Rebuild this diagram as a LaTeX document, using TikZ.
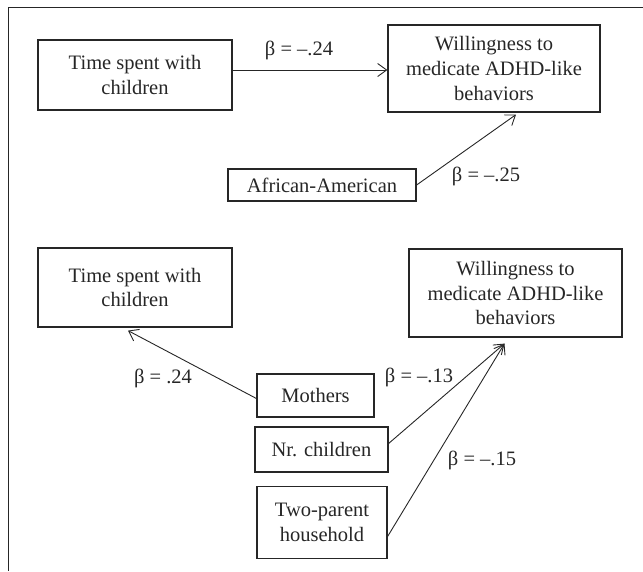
\documentclass[tikz,border=0pt]{standalone}
\usepackage{fontspec}
\setmainfont{Liberation Serif}
\usetikzlibrary{arrows.meta}
\definecolor{ink}{gray}{0.15}
\begin{document}
\begin{tikzpicture}[x=1pt,y=-1pt,
  box/.style={draw=ink, line width=1.2pt, rectangle, align=center, inner sep=0pt,
    font=\fontsize{20.5}{24.7}\selectfont, text=ink},
  lbl/.style={font=\fontsize{20.5}{24.7}\selectfont, text=ink, inner sep=0pt},
  arr/.style={draw=ink, line width=0.9pt, -{Straight Barb[length=9pt,width=13pt,line width=0.9pt]}},
  frame/.style={draw=ink, line width=1.3pt}]
\useasboundingbox (0,0) rectangle (643,571);
% frame
\coordinate (fa) at (643,7.5);
\coordinate (fb) at (8.5,7.5);
\coordinate (fc) at (8.5,571);
\draw[frame] (fa) -- (fb) -- (fc);
% top diagram
\node[box, minimum width=194pt, minimum height=70pt] (t1) at (135,75) {Time spent with\\children};
\node[box, minimum width=212pt, minimum height=87pt] (w1) at (494,68.5) {Willingness to\\medicate ADHD-like\\behaviors};
\node[box, minimum width=188pt, minimum height=32pt] (aa) at (322,185) {African-American};
\draw[arr] ([yshift=5pt]t1.east) -- ([yshift=5pt]t1.east -| w1.west);
\draw[arr] (aa.east) -- ([xshift=22pt,yshift=-2pt]w1.south);
\node[lbl] (l1) at (299,50) {β = –.24};
\node[lbl] (l2) at (486,176) {β = –.25};
% bottom diagram
\node[box, minimum width=194pt, minimum height=79pt] (t2) at (135,287.5) {Time spent with\\children};
\node[box, minimum width=213pt, minimum height=88pt] (w2) at (515.5,293) {Willingness to\\medicate ADHD-like\\behaviors};
\node[box, minimum width=117pt, minimum height=43pt] (mo) at (315.5,395.5) {Mothers};
\node[box, minimum width=133pt, minimum height=45pt] (nr) at (321.5,449.5) {Nr. children};
\node[box, minimum width=130pt, minimum height=72pt] (tp) at (322,522.5) {Two-parent\\household};
\coordinate (w2in) at ([xshift=-11pt,yshift=-6pt]w2.south);
\draw[arr] ([yshift=-3pt]mo.west) -- ([xshift=-7pt,yshift=-3pt]t2.south);
\draw[arr] ([yshift=6pt]nr.east) -- (w2in);
\draw[arr] ([yshift=-14pt]tp.east) -- (w2in);
\node[lbl] (l3) at (163,378) {β = .24};
\node[lbl] (l4) at (419,377) {β = –.13};
\node[lbl] (l5) at (482,460) {β = –.15};
\end{tikzpicture}
\end{document}
